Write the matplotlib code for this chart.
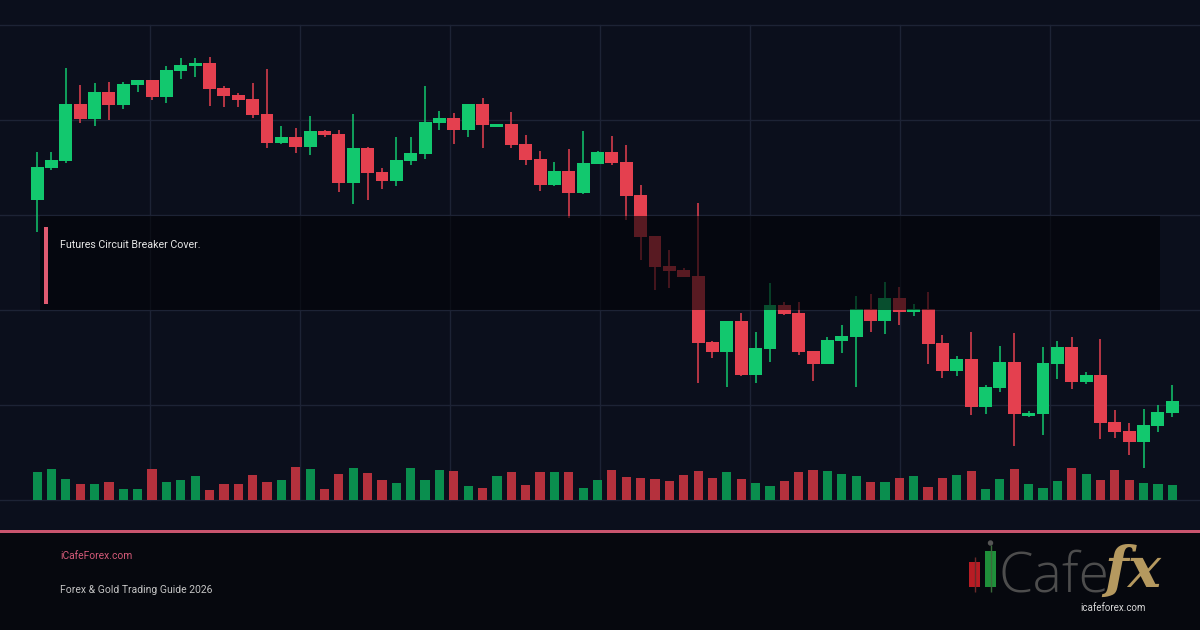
import numpy as np
import matplotlib.pyplot as plt
from matplotlib.patches import Rectangle, Circle

# OHLC (price points, arbitrary scale)
opens = [300, 332, 339, 396, 381, 408, 395, 415, 420, 403,
         429, 434, 437, 412, 405, 401, 386, 357, 363, 353,
         369, 366, 317, 352, 328, 319, 339, 346, 377, 382,
         370, 396, 373, 376, 356, 341, 315, 329, 307, 336,
         348, 338, 305, 264, 234, 230, 224, 158, 148, 179,
         125, 151, 195, 187, 149, 136, 159, 163, 191, 179,
         202, 188, 191, 157, 129, 141, 93, 112, 138, 84,
         86, 136, 153, 118, 125, 78, 69, 58, 74, 87]
highs = [348, 348, 432, 415, 417, 418, 418, 420, 420, 434,
         442, 442, 443, 414, 407, 417, 431, 374, 372, 384,
         370, 370, 386, 353, 332, 363, 363, 414, 389, 387,
         396, 402, 376, 388, 365, 349, 338, 351, 369, 349,
         364, 355, 315, 264, 250, 232, 297, 159, 179, 187,
         168, 217, 198, 198, 149, 163, 175, 204, 206, 218,
         213, 196, 208, 165, 144, 168, 115, 154, 167, 89,
         153, 159, 163, 128, 161, 90, 77, 91, 95, 115]
lows = [268, 330, 337, 377, 374, 380, 391, 408, 400, 397,
        421, 423, 394, 393, 393, 382, 352, 356, 347, 345,
        363, 308, 296, 300, 311, 314, 335, 341, 370, 356,
        363, 352, 373, 352, 335, 309, 314, 282, 306, 336,
        335, 280, 240, 210, 212, 223, 117, 142, 113, 124,
        117, 138, 185, 145, 119, 136, 147, 113, 168, 166,
        175, 184, 136, 122, 124, 85, 86, 108, 54, 83,
        65, 121, 111, 116, 61, 62, 45, 32, 68, 83]
closes = [333, 340, 396, 381, 408, 395, 416, 420, 403, 430,
          435, 437, 411, 404, 400, 385, 357, 363, 353, 369,
          365, 317, 352, 327, 319, 340, 347, 378, 382, 370,
          396, 375, 376, 355, 340, 315, 329, 307, 337, 348,
          337, 304, 263, 233, 229, 223, 157, 148, 179, 125,
          152, 195, 186, 148, 136, 160, 164, 191, 179, 202,
          188, 191, 156, 129, 141, 93, 113, 138, 86, 87,
          137, 153, 118, 125, 77, 68, 58, 75, 88, 99]
volumes = [28, 31, 21, 16, 16, 18, 11, 11, 31, 18,
           20, 24, 10, 16, 16, 25, 18, 20, 33, 31,
           11, 26, 32, 27, 20, 17, 32, 20, 30, 29,
           14, 12, 24, 28, 15, 28, 28, 28, 12, 20,
           30, 23, 22, 21, 19, 25, 29, 22, 28, 21,
           17, 14, 19, 28, 30, 29, 26, 24, 18, 18,
           22, 24, 13, 22, 25, 29, 11, 21, 31, 16,
           12, 19, 32, 26, 20, 30, 20, 17, 16, 15]

note_text = "Futures Circuit Breaker Cover."
site_text = "iCafeForex.com"
guide_text = "Forex & Gold Trading Guide 2026"
logo_word = "Cafe"
logo_fx = "fx"
logo_url = "icafeforex.com"

# colours
bg = '#0b0f1c'
footer_bg = '#06080e'
grid_col = '#1d2335'
up = '#12c86e'
down = '#e4404f'
vol_up = '#0a8e4e'
vol_down = '#b5313d'
accent = '#c9556e'

fig = plt.figure(figsize=(12, 6.3), dpi=100)
fig.patch.set_facecolor(bg)

# main price axes: pixel rows 25..500, candle spacing ~14.37 px
ax = fig.add_axes([0, 130 / 630, 1, 475 / 630], zorder=1)
ax.set_facecolor('none')
step, x0 = 14.37, 37.1
x = np.arange(len(opens))
ax.set_xlim(-x0 / step, (1200 - x0) / step)
ax.set_ylim(0, 475)
ax.set_xticks([(p - x0) / step for p in range(150, 1200, 150)])
ax.set_yticks(range(0, 476, 95))
ax.grid(True, color=grid_col, lw=1, clip_on=False)
ax.tick_params(length=0, labelbottom=False, labelleft=False)
for s in ax.spines.values():
    s.set_visible(False)

o = np.array(opens)
c = np.array(closes)
rising = c >= o
col = np.where(rising, up, down)
ax.vlines(x, lows, highs, colors=col, lw=1.1, zorder=2)
ax.bar(x, np.maximum(np.abs(c - o), 2), bottom=np.minimum(o, c), width=0.9,
       color=col, zorder=3)
ax.bar(x, volumes, width=0.64, color=np.where(rising, vol_up, vol_down), zorder=3)

# overlay in pixel coordinates
ov = fig.add_axes([0, 0, 1, 1], zorder=3)
ov.set_xlim(0, 1200)
ov.set_ylim(630, 0)
ov.axis('off')
ov.patch.set_alpha(0)

# annotation box
ov.add_patch(Rectangle((40, 216), 1120, 94, color='#020307', alpha=0.62, lw=0))
ov.add_patch(Rectangle((44, 227), 4, 77, color='#e05a70', lw=0))
ov.text(60, 245, note_text, color='#e6e6e6', fontsize=7.7, family='Roboto', va='center')

# footer
ov.add_patch(Rectangle((0, 531), 1200, 99, color=footer_bg, lw=0))
ov.add_patch(Rectangle((0, 529.5), 1200, 3.5, color=accent, lw=0))
ov.text(60, 556, site_text, color='#d45a78', fontsize=7.4, family='Roboto', va='center')
ov.text(60, 590, guide_text, color='#c4c4c4', fontsize=7.5, family='Roboto', va='center')

# logo
ov.vlines(974.5, 557, 592, color='#6a2a2a', lw=1)
ov.add_patch(Rectangle((969, 562), 11, 25, color='#b81c24', lw=0))
ov.vlines(990.5, 545, 592, color='#3a6a3a', lw=1)
ov.add_patch(Circle((990.5, 543), 2, color='#555555'))
ov.add_patch(Rectangle((985, 551), 11, 36, color='#1f8f3a', lw=0))
ov.text(999, 591, logo_word, fontsize=40, family='Open Sans', weight='light',
        color='#4d4d4d', va='baseline')
ov.text(1104, 587, logo_fx, fontsize=40, family='DejaVu Serif', style='italic',
        weight='bold', color='#b5995f', va='baseline')
ov.text(1113, 608, logo_url, fontsize=7, color='#d8d8d8', ha='center',
        va='center', family='Roboto')

fig.savefig('out.png', dpi=100, facecolor=fig.get_facecolor())
